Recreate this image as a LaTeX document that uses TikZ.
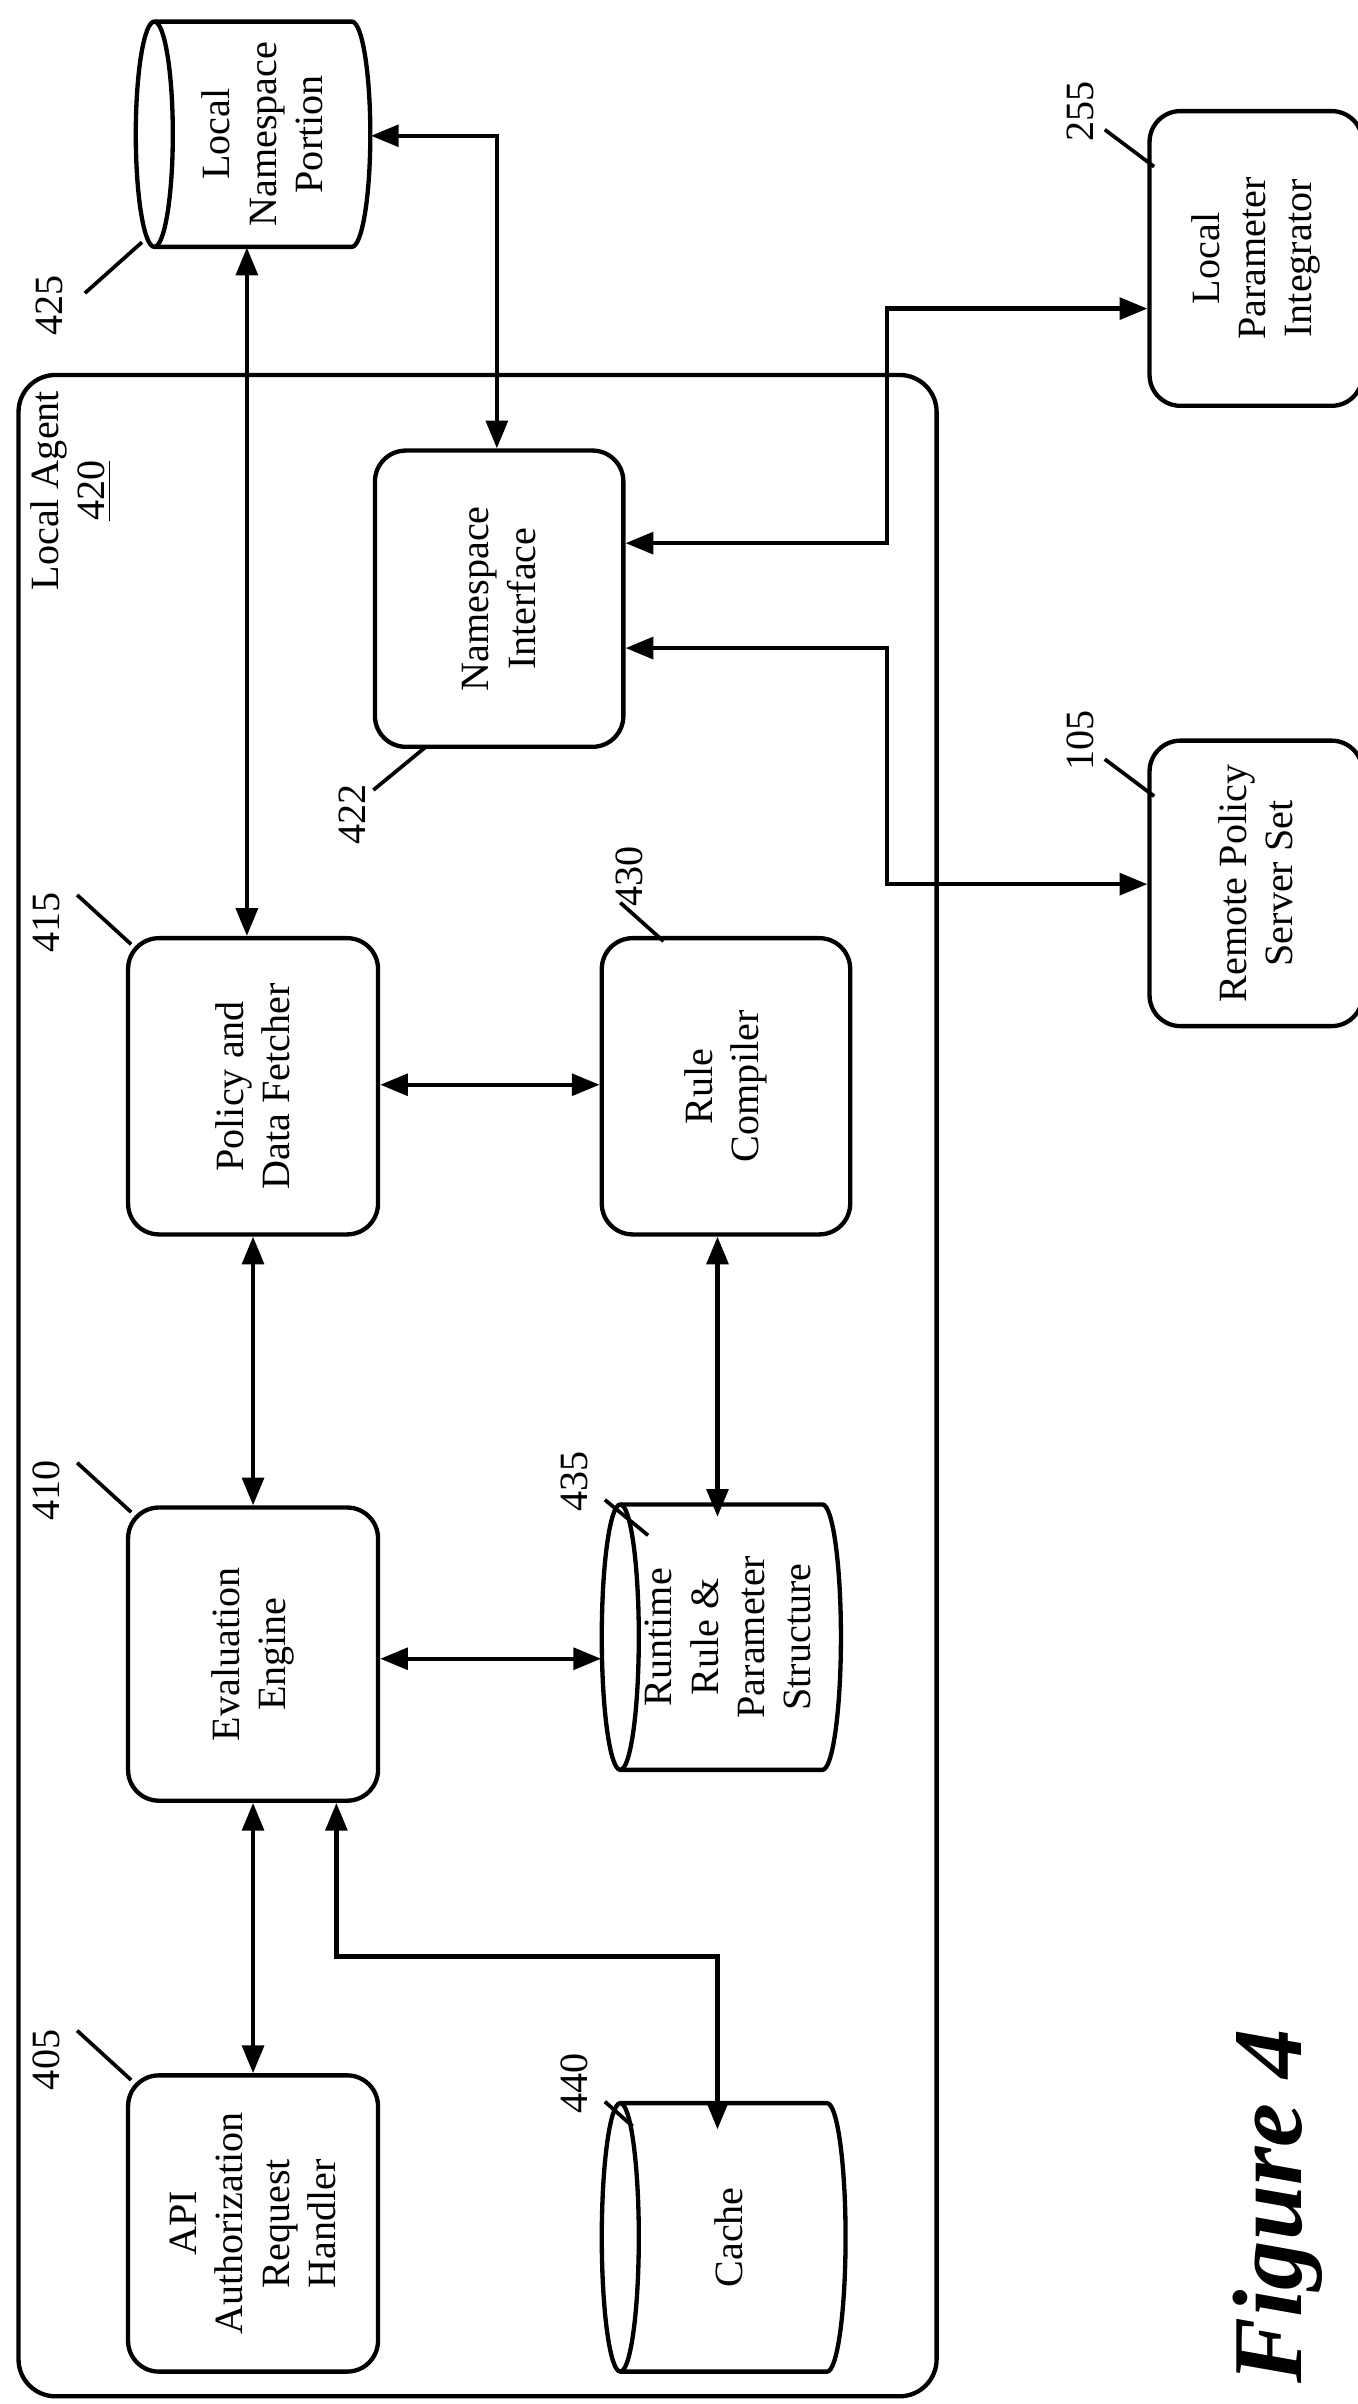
\documentclass[tikz,border=0pt]{standalone}
\usepackage{fontspec}
\setmainfont{Liberation Serif}
\usetikzlibrary{arrows.meta}
\begin{document}
\begin{tikzpicture}[x=0.5pt,y=-0.5pt,
  box/.style={draw,line width=1.4pt,rounded corners=10pt,inner sep=0pt,align=center,font=\fontsize{13}{15}\selectfont},
  txt/.style={rotate=90,align=center,font=\fontsize{13}{15}\selectfont},
  lbl/.style={rotate=90,font=\fontsize{13}{15}\selectfont},
  ar/.style={line width=1.4pt,{Triangle[length=9pt,width=7pt]}-{Triangle[length=9pt,width=7pt]}},
  ld/.style={line width=1.2pt},
  cyl/.style={line width=1.4pt}]
\useasboundingbox (0,0) rectangle (880,1558);
\newcommand{\cylh}[5]{% name, x1,y1,x2,y2
  \pgfmathsetmacro{\cya}{#2+12}\pgfmathsetmacro{\cyb}{#4-12}\pgfmathsetmacro{\cyr}{(#5-#3)/2}%
  \draw[cyl] (\cya,#3) -- (\cyb,#3) arc[start angle=-90,end angle=90,x radius=12,y radius=\cyr] -- (\cya,#5) arc[start angle=90,end angle=270,x radius=12,y radius=\cyr] -- cycle;
  \draw[cyl] (\cya,#3) arc[start angle=-90,end angle=90,x radius=12,y radius=\cyr];
  \pgfmathsetmacro{\cyw}{(#4-#2)*0.5}\pgfmathsetmacro{\cyh}{(#5-#3)*0.5}%
  \node[inner sep=0pt,minimum width=\cyw pt,minimum height=\cyh pt] (#1) at ({(#2+#4)/2},{(#3+#5)/2}) {};}
% outer
\draw[line width=1.4pt,rounded corners=12pt] (12,243) rectangle (607,1553);
\node[txt,anchor=center] (la) at (46,318) {Local Agent\\\underline{420}};
% boxes
\node[box,minimum width=80.5pt,minimum height=96pt] (ni) at (323.5,388) {};
\node[txt] at (ni) {Namespace\\Interface};
\node[box,minimum width=81pt,minimum height=96pt] (pf) at (164,704) {};
\node[txt] at (pf) {Policy and\\Data Fetcher};
\node[box,minimum width=80.5pt,minimum height=96pt] (rc) at (470.5,704) {};
\node[txt] at (rc) {Rule\\Compiler};
\node[box,minimum width=81pt,minimum height=95pt] (ee) at (164,1072) {};
\node[txt] at (ee) {Evaluation\\Engine};
\node[box,minimum width=81pt,minimum height=96pt] (api) at (164,1441) {};
\node[txt] at (api) {API\\Authorization\\Request\\Handler};
\node[box,minimum width=69pt,minimum height=95.5pt] (lpi) at (814,167.5) {};
\node[txt] at (lpi) {Local\\Parameter\\Integrator};
\node[box,minimum width=69pt,minimum height=92.5pt] (rps) at (814,572.5) {};
\node[txt] at (rps) {Remote Policy\\Server Set};
% cylinders
\cylh{lnp}{88}{14}{240}{160}
\node[txt] at (170,87) {Local\\Namespace\\Portion};
\cylh{rt}{390}{975}{545}{1147}
\node[txt] at (472,1061) {Runtime\\Rule \&\\Parameter\\Structure};
\cylh{ca}{390}{1363}{548}{1537}
\node[txt] at (472,1450) {Cache};
% numbers
\node[lbl] (n425) at (32,198) {425};
\draw[ld] (55,190) -- (92,157);
\node[lbl] (n422) at (228,528) {422};
\draw[ld] (242,512) -- (276,484);
\node[lbl] (n415) at (30,598) {415};
\draw[ld] (50,580) -- (85,612);
\node[lbl] (n430) at (408,568) {430};
\draw[ld] (402,585) -- (430,610);
\node[lbl] (n410) at (30,966) {410};
\draw[ld] (50,948) -- (85,980);
\node[lbl] (n435) at (372,960) {435};
\draw[ld] (392,972) -- (420,995);
\node[lbl] (n405) at (30,1335) {405};
\draw[ld] (50,1316) -- (85,1348);
\node[lbl] (n440) at (372,1350) {440};
\draw[ld] (392,1362) -- (410,1378);
\node[lbl] (n255) at (700,72) {255};
\draw[ld] (716,84) -- (748,108);
\node[lbl] (n105) at (700,480) {105};
\draw[ld] (716,492) -- (748,516);
% figure label
\node[rotate=90,font=\fontsize{32}{36}\selectfont\bfseries\itshape] (fig) at (828,1430) {Figure 4};
% arrows
\draw[ar] (lnp.south -| 160,0) -- (pf.north -| 160,0);
\draw[ar] (lnp.east |- 0,88) -- (322,88) -- (ni.north -| 322,0);
\draw[ar] (ni.east |- 0,352) -- (575,352) -- (575,200) -- (lpi.west |- 0,200);
\draw[ar] (ni.east |- 0,420) -- (575,420) -- (575,573) -- (rps.west |- 0,573);
\draw[ar] (pf.east |- 0,703) -- (rc.west |- 0,703);
\draw[ar] (pf.south) -- (ee.north);
\draw[ar] (rc.south -| 465,0) -- (465,983);
\draw[ar] (ee.east |- 0,1075) -- (rt.west |- 0,1075);
\draw[ar] (ee.south) -- (api.north);
\draw[ar] (ee.south -| 218,0) -- (218,1268) -- (465,1268) -- (465,1380);
\end{tikzpicture}
\end{document}
